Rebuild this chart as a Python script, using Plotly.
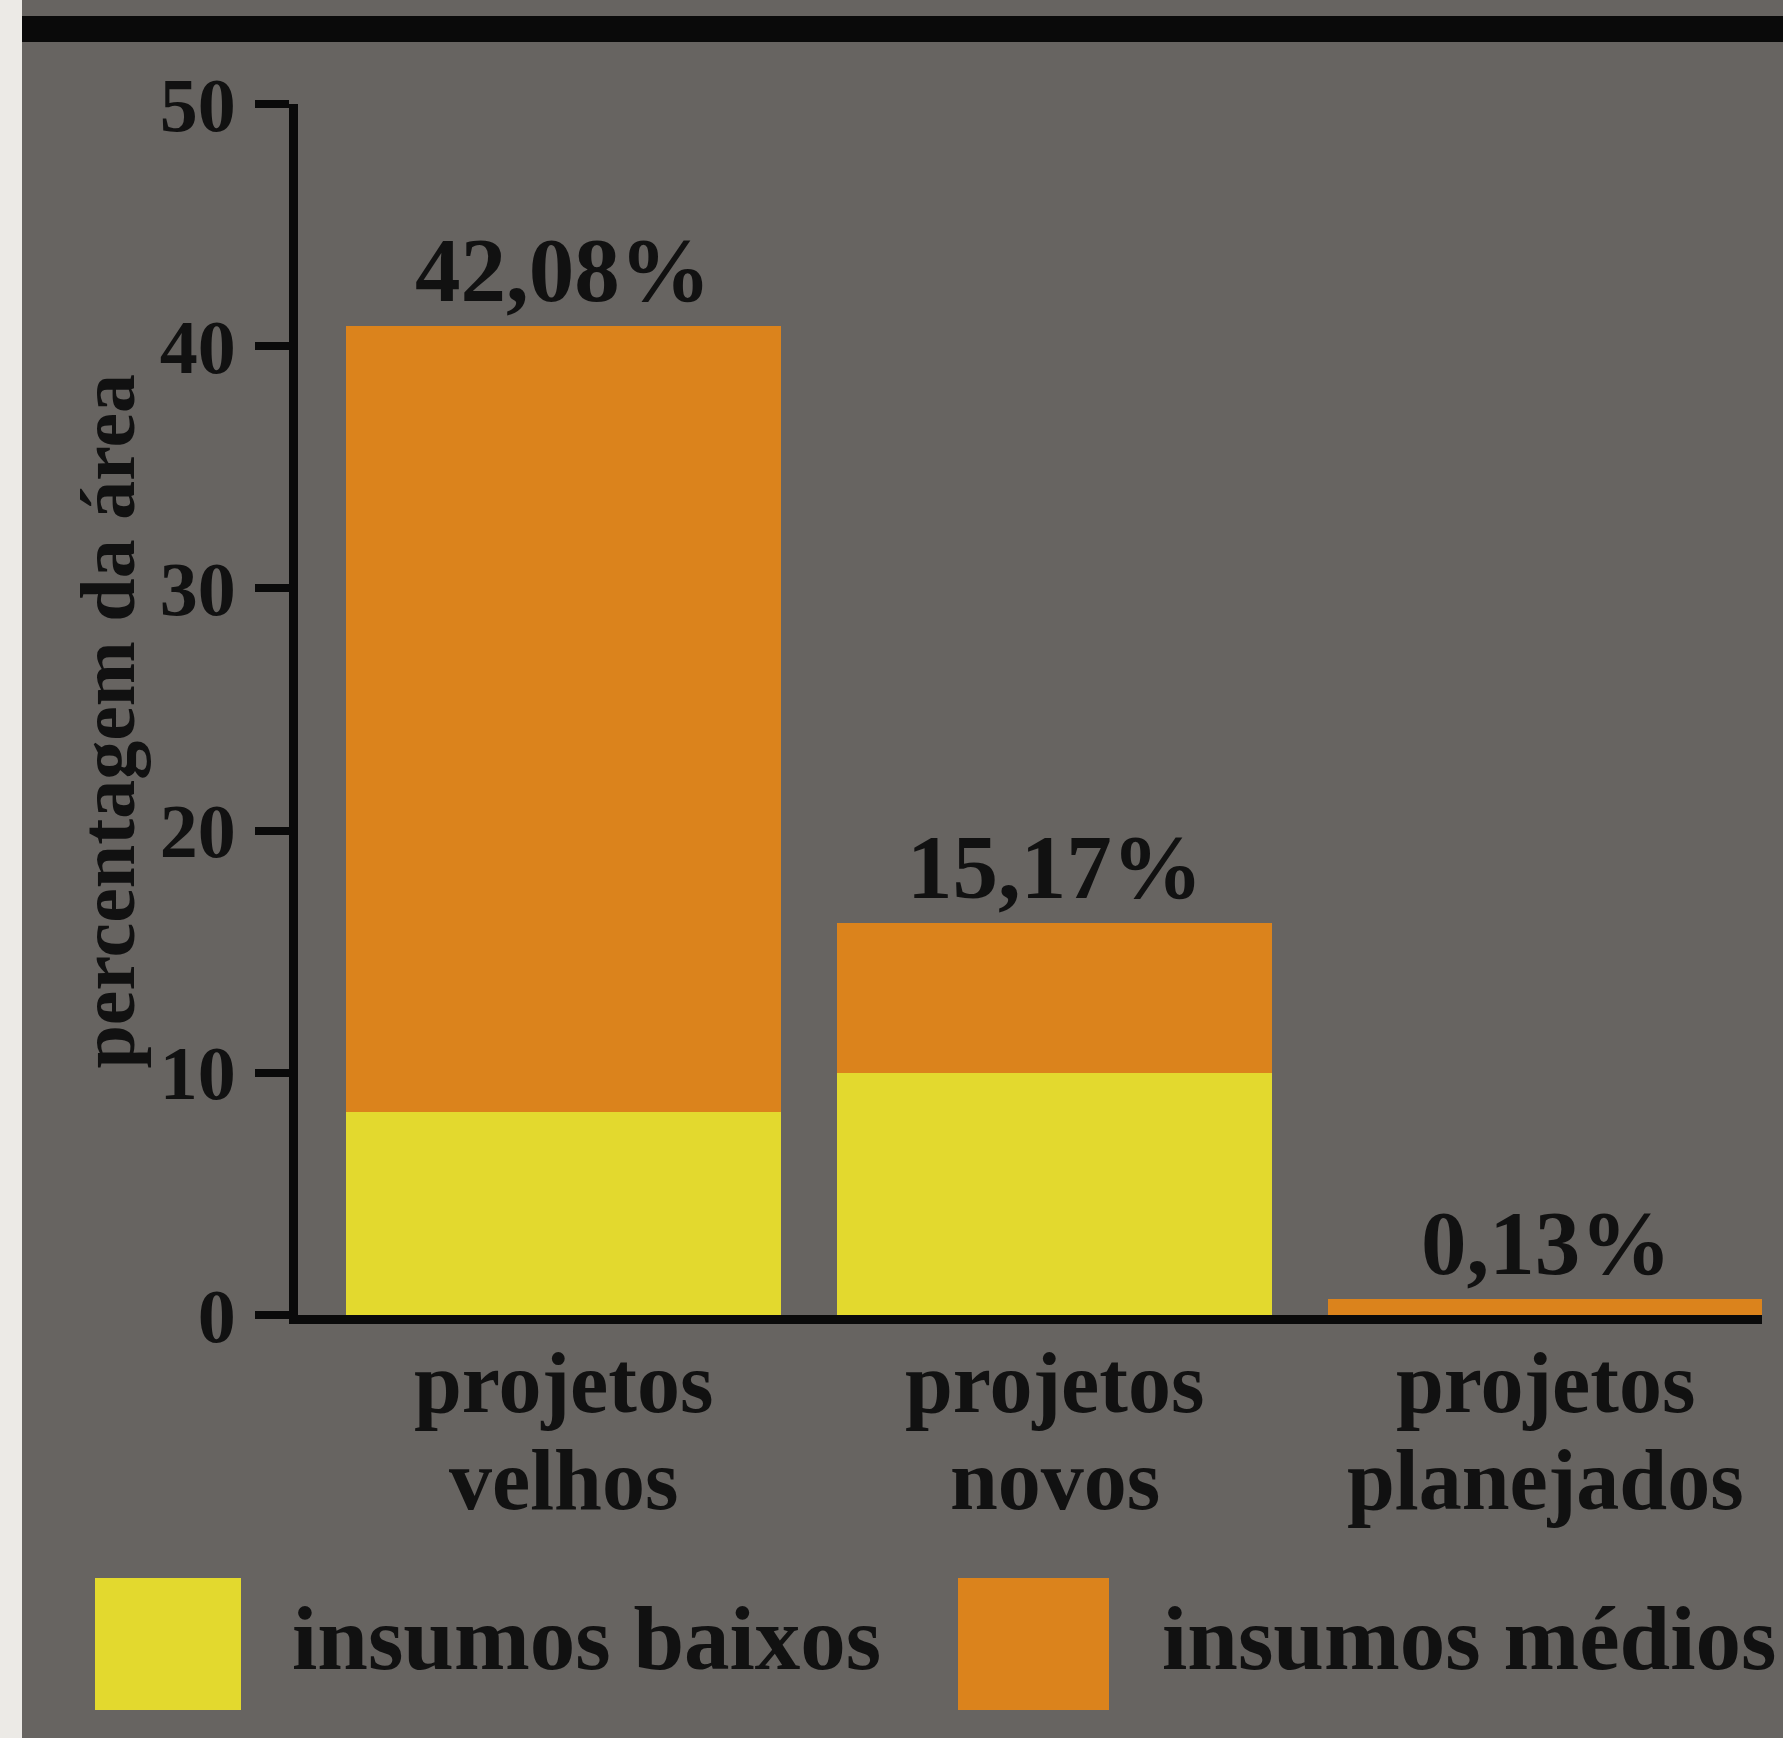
import plotly.graph_objects as go

# ---------------- data ----------------
categories = ["projetos velhos", "projetos novos", "projetos planejados"]
cat_line1 = ["projetos", "projetos", "projetos"]
cat_line2 = ["velhos", "novos", "planejados"]
insumos_baixos = [8.4, 10.0, 0.0]
insumos_medios = [32.45, 6.2, 0.66]
total_labels = ["42,08%", "15,17%", "0,13%"]
y_ticks = [0, 10, 20, 30, 40, 50]
series_names = ["insumos baixos", "insumos médios"]
series_colors = ["#e3d92e", "#db831c"]
y_title = "percentagem da área"

# ---------------- layout geometry ----------------
W, H = 1783, 1738
L, R, T, B = 298, 21, 104, 423
PW = W - L - R
PH = H - T - B
BG = "#676461"
FONT = "Liberation Serif"
INK = "#111111"


def px_x(px):
    return (px - L) / PW


def px_y(py):
    return (H - B - py) / PH


fig = go.Figure()
for name, vals, col in zip(series_names, [insumos_baixos, insumos_medios], series_colors):
    fig.add_trace(go.Bar(
        x=categories, y=vals, name=name, width=0.884,
        marker=dict(color=col, line=dict(width=0)),
        showlegend=False, hoverinfo="skip",
    ))

totals = [a + b for a, b in zip(insumos_baixos, insumos_medios)]

annotations = []
# value labels above bars
for c, tot, lab in zip(categories, totals, total_labels):
    annotations.append(dict(
        x=c, y=tot, xref="x", yref="y", text=lab, showarrow=False,
        yanchor="bottom", xanchor="center", yshift=3,
        font=dict(family=FONT, size=91, color=INK, weight="bold"),
    ))
# category labels (two lines each)
for c, l1, l2 in zip(categories, cat_line1, cat_line2):
    annotations.append(dict(
        x=c, y=px_y(1383), xref="x", yref="paper", text=l1, showarrow=False,
        yanchor="middle", xanchor="center",
        font=dict(family=FONT, size=86, color=INK, weight="bold"),
    ))
    annotations.append(dict(
        x=c, y=px_y(1480), xref="x", yref="paper", text=l2, showarrow=False,
        yanchor="middle", xanchor="center",
        font=dict(family=FONT, size=86, color=INK, weight="bold"),
    ))
# y-axis title
annotations.append(dict(
    x=px_x(108), y=0.49, xref="paper", yref="paper", text=y_title,
    textangle=-90, showarrow=False, xanchor="center", yanchor="middle",
    font=dict(family=FONT, size=78, color=INK, weight="bold"),
))
# custom legend texts
legend_text_x = [290, 1160]
for name, tx in zip(series_names, legend_text_x):
    annotations.append(dict(
        x=px_x(tx), y=px_y(1638), xref="paper", yref="paper", text=name,
        showarrow=False, xanchor="left", yanchor="middle",
        font=dict(family=FONT, size=91, color=INK, weight="bold"),
    ))

shapes = []
# legend boxes
legend_boxes = [(95, 241), (958, 1109)]
for (x0, x1), col in zip(legend_boxes, series_colors):
    shapes.append(dict(type="rect", xref="paper", yref="paper",
                       x0=px_x(x0), x1=px_x(x1), y0=px_y(1710), y1=px_y(1578),
                       fillcolor=col, line=dict(width=0)))
# top black rule
shapes.append(dict(type="rect", xref="paper", yref="paper",
                   x0=px_x(22), x1=px_x(W), y0=px_y(42), y1=px_y(16),
                   fillcolor="#0a0a0a", line=dict(width=0)))
# left white strip
shapes.append(dict(type="rect", xref="paper", yref="paper",
                   x0=px_x(0), x1=px_x(22), y0=px_y(H), y1=px_y(0),
                   fillcolor="#eceae6", line=dict(width=0)))

fig.update_layout(
    width=W, height=H,
    margin=dict(l=L, r=R, t=T, b=B, pad=0),
    paper_bgcolor=BG, plot_bgcolor=BG,
    barmode="stack", bargap=0,
    annotations=annotations, shapes=shapes,
    showlegend=False,
    xaxis=dict(
        type="category", range=[-0.5407, 2.4409],
        showline=True, linewidth=9, linecolor="#0a0a0a",
        ticks="", showticklabels=False, showgrid=False, zeroline=False,
        fixedrange=True,
    ),
    yaxis=dict(
        range=[0, 50], tickvals=y_ticks, ticktext=[str(v) for v in y_ticks],
        showline=True, linewidth=9, linecolor="#0a0a0a",
        ticks="outside", ticklen=34, tickwidth=8, tickcolor="#0a0a0a",
        ticklabelstandoff=4,
        tickfont=dict(family=FONT, size=76, color=INK, weight="bold"),
        showgrid=False, zeroline=False, fixedrange=True,
    ),
)

fig.write_html("out.html", config={"displayModeBar": False})
